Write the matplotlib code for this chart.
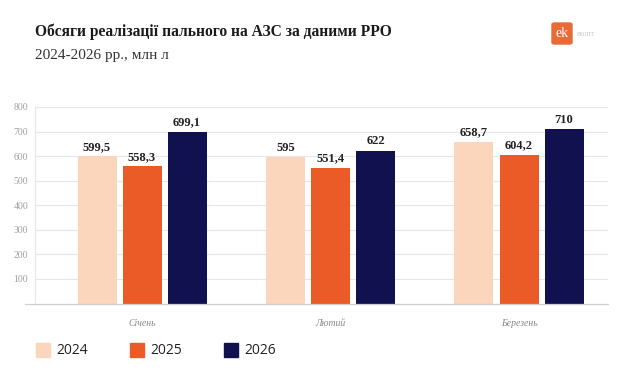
import numpy as np
import matplotlib.pyplot as plt
from matplotlib.patches import FancyBboxPatch, Rectangle

months = ['Січень', 'Лютий', 'Березень']
years = ['2024', '2025', '2026']
v2024 = [599.5, 595.0, 658.7]
v2025 = [558.3, 551.4, 604.2]
v2026 = [699.1, 622.0, 710.0]
labels2024 = ['599,5', '595', '658,7']
labels2025 = ['558,3', '551,4', '604,2']
labels2026 = ['699,1', '622', '710']
yticks = [100, 200, 300, 400, 500, 600, 700, 800]

colors = ['#fbd5bc', '#ea5b27', '#121150']
serif = 'Liberation Serif'

fig = plt.figure(figsize=(6.2, 3.75), dpi=100)
ax = fig.add_axes([35 / 620, 1 - 303.5 / 375, (608 - 35) / 620, (303.5 - 107) / 375])

x = np.arange(len(months))
pitch = 0.239
width = 0.207
series = [(v2024, labels2024), (v2025, labels2025), (v2026, labels2026)]
for i, (vals, labs) in enumerate(series):
    xs = x + (i - 1) * pitch
    ax.bar(xs, vals, width=width, color=colors[i], zorder=3)
    for xi, v, t in zip(xs, vals, labs):
        ax.text(xi, v + 14, t, ha='center', va='bottom', fontsize=9,
                fontweight='bold', family=serif, color='#222222')

ax.set_xlim(-0.568, 2.472)
ax.set_ylim(0, 800)
ax.set_yticks(yticks)
ax.set_yticklabels([str(t) for t in yticks], fontsize=7, family=serif, color='#a0a0a0')
ax.tick_params(axis='y', length=0, pad=5)
ax.set_xticks(x)
ax.set_xticklabels(months, fontsize=7, family=serif, style='italic', color='#8a8a8a')
ax.tick_params(axis='x', length=0, pad=11)
ax.grid(axis='y', color='#e6e6e6', lw=0.8, zorder=0)
for s in ['top', 'right', 'bottom']:
    ax.spines[s].set_visible(False)
ax.spines['left'].set_color('#e6e6e6')
ax.spines['left'].set_linewidth(0.8)
# baseline, sticks out a bit to the left
ax.plot([-0.62, 2.472], [0, 0], color='#cfcfcf', lw=0.9, clip_on=False, zorder=4)

# title
fig.text(35 / 620, 1 - 32 / 375, 'Обсяги реалізації пального на АЗС за даними РРО',
         fontsize=11.2, fontweight='bold', family=serif, color='#1a1a1a', va='center')
fig.text(35 / 620, 1 - 55 / 375, '2024-2026 рр., млн л',
         fontsize=11, family=serif, color='#333333', va='center')

# logo
logo = FancyBboxPatch((552 / 620, 1 - 44 / 375), 20 / 620, 21 / 375,
                      boxstyle='round,pad=0,rounding_size=0.004',
                      transform=fig.transFigure, color='#ea6a35')
fig.patches.append(logo)
fig.text(562 / 620, 1 - 33.5 / 375, 'ek', fontsize=10, family=serif, color='white',
         ha='center', va='center')
fig.text(577 / 620, 1 - 34 / 375, 'екопт', fontsize=5.5, family=serif, color='#c8c8c8',
         va='center')

# legend
legend_x = [36, 130, 224]
for lx, yr, c in zip(legend_x, years, colors):
    fig.patches.append(Rectangle((lx / 620, 1 - 357 / 375), 14 / 620, 14 / 375,
                                 transform=fig.transFigure, color=c))
    fig.text((lx + 20) / 620, 1 - 350 / 375, yr, fontsize=10, family='Open Sans',
             color='#222222', va='center')

fig.savefig('out.png', dpi=100)
